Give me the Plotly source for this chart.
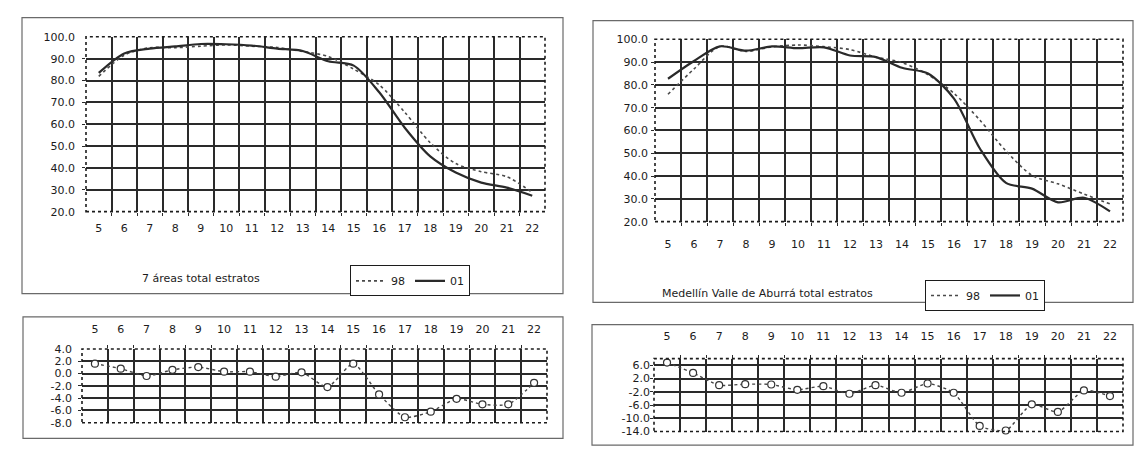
import plotly.graph_objects as go

W, H = 1137, 456

# ---------------- data ----------------
categories = list(range(5, 23))
cat_labels = [str(c) for c in categories]

# 7 áreas total estratos
tl_98 = [81.9, 91.6, 95.0, 95.0, 95.7, 96.3, 95.7, 95.1, 93.3, 91.0, 85.2, 78.0, 65.5, 51.5, 42.0, 38.3, 36.0, 28.8]
tl_01 = [83.5, 92.4, 94.6, 95.6, 96.7, 96.6, 96.0, 94.6, 93.5, 88.8, 86.8, 74.6, 58.4, 45.3, 37.9, 33.3, 31.0, 27.3]

# Medellín Valle de Aburrá total estratos
tr_98 = [75.9, 87.0, 96.9, 94.7, 96.7, 97.5, 96.8, 95.5, 92.2, 89.8, 84.5, 76.3, 64.5, 51.0, 40.3, 36.6, 32.1, 27.8]
tr_01 = [82.7, 90.5, 96.9, 95.0, 96.9, 96.1, 96.5, 92.9, 92.2, 87.5, 85.0, 74.0, 52.0, 37.0, 34.5, 28.5, 30.5, 24.5]

# differences (bottom panels)
bl_diff = [1.6, 0.8, -0.4, 0.6, 1.05, 0.3, 0.3, -0.5, 0.2, -2.2, 1.6, -3.4, -7.1, -6.2, -4.1, -5.0, -5.0, -1.5]
br_diff = [6.8, 3.7, 0.0, 0.3, 0.2, -1.4, -0.3, -2.6, 0.0, -2.3, 0.5, -2.3, -12.3, -13.7, -5.8, -8.1, -1.6, -3.3]

top_yticks = [20, 30, 40, 50, 60, 70, 80, 90, 100]
top_ytext = ["20.0", "30.0", "40.0", "50.0", "60.0", "70.0", "80.0", "90.0", "100.0"]
bl_yticks = [4, 2, 0, -2, -4, -6, -8]
bl_ytext = ["4.0", "2.0", "0.0", "-2.0", "-4.0", "-6.0", "-8.0"]
br_yticks = [6, 2, -2, -6, -10, -14]
br_ytext = ["6.0", "2.0", "-2.0", "-6.0", "-10.0", "-14.0"]

series_names = ["98", "01"]
title_left = "7 áreas total estratos"
title_right = "Medellín Valle de Aburrá total estratos"

# ---------------- style ----------------
FONT = "DejaVu Sans"
INK = "#1c1c1c"
GRID = "#2a2a2a"


def px_x(p):
    return p / W


def px_y(p):
    return 1 - p / H


fig = go.Figure()

line98 = dict(color="#4a4a4a", width=1.6, dash="dot", shape="spline", smoothing=0.8)
line01 = dict(color="#2a2a2a", width=2.2, shape="spline", smoothing=0.8)

fig.add_trace(go.Scatter(x=categories, y=tl_98, name=series_names[0], mode="lines",
                         line=line98, xaxis="x", yaxis="y", legend="legend"))
fig.add_trace(go.Scatter(x=categories, y=tl_01, name=series_names[1], mode="lines",
                         line=line01, xaxis="x", yaxis="y", legend="legend"))
fig.add_trace(go.Scatter(x=categories, y=tr_98, name=series_names[0], mode="lines",
                         line=line98, xaxis="x2", yaxis="y2", legend="legend2"))
fig.add_trace(go.Scatter(x=categories, y=tr_01, name=series_names[1], mode="lines",
                         line=line01, xaxis="x2", yaxis="y2", legend="legend2"))

diff_line = dict(color="#444444", width=1.4, dash="dot", shape="spline", smoothing=0.6)
diff_marker = dict(symbol="circle", size=7, color="white", line=dict(color="#333333", width=1.2))
fig.add_trace(go.Scatter(x=categories, y=bl_diff, mode="lines+markers", line=diff_line,
                         marker=diff_marker, xaxis="x3", yaxis="y3", showlegend=False,
                         cliponaxis=False))
fig.add_trace(go.Scatter(x=categories, y=br_diff, mode="lines+markers", line=diff_line,
                         marker=diff_marker, xaxis="x4", yaxis="y4", showlegend=False,
                         cliponaxis=False))

tickfont = dict(family=FONT, size=11, color=INK)
minor_x = [c + 0.5 for c in categories[:-1]]


def make_x(dom, anchor, side, standoff):
    return dict(domain=[px_x(dom[0]), px_x(dom[1])], anchor=anchor, range=[4.5, 22.5],
                tickmode="array", tickvals=categories, ticktext=cat_labels, side=side,
                showgrid=False, zeroline=False, showline=False, ticks="",
                ticklabelstandoff=standoff, tickfont=tickfont, fixedrange=True,
                minor=dict(tickmode="array", tickvals=minor_x, showgrid=True,
                           gridcolor=GRID, gridwidth=1.5, ticks="outside", ticklen=3,
                           tickcolor=GRID))


def make_y(dom, anchor, rng, tv, tt, inner, standoff):
    return dict(domain=[px_y(dom[1]), px_y(dom[0])], anchor=anchor, range=rng,
                tickmode="array", tickvals=tv, ticktext=tt, showgrid=False,
                zeroline=False, showline=False, ticks="", ticklabelstandoff=standoff,
                tickfont=tickfont, fixedrange=True,
                minor=dict(tickmode="array", tickvals=inner, showgrid=True,
                           gridcolor=GRID, gridwidth=1.5, ticks="outside", ticklen=3,
                           tickcolor=GRID))


TL = ((86, 545), (31.7, 211.7))
TR = ((655, 1123), (34.3, 222))
BL = ((82, 547), (353, 429))
BR = ((654, 1123), (363, 438))

layout_axes = dict(
    xaxis=make_x(TL[0], "y", "bottom", 8),
    yaxis=make_y(TL[1], "x", [20, 100], top_yticks, top_ytext, top_yticks[1:-1], 10),
    xaxis2=make_x(TR[0], "y2", "bottom", 14),
    yaxis2=make_y(TR[1], "x2", [20, 100], top_yticks, top_ytext, top_yticks[1:-1], 6),
    xaxis3=make_x(BL[0], "y3", "top", 13),
    yaxis3=make_y(BL[1], "x3", [-8, 4], bl_yticks, bl_ytext, bl_yticks[1:-1], 9),
    xaxis4=make_x(BR[0], "y4", "top", 15),
    yaxis4=make_y(BR[1], "x4", [-14, 8], br_yticks, br_ytext, br_yticks[:-1], 3),
)

shapes = []
# dotted plot-area borders
for xr, yr in [("x", "y"), ("x2", "y2"), ("x3", "y3"), ("x4", "y4")]:
    shapes.append(dict(type="rect", xref=f"{xr} domain", yref=f"{yr} domain",
                       x0=0, x1=1, y0=0, y1=1,
                       line=dict(color=INK, width=1.6, dash="dot"), layer="above"))
# outer frames of each panel
for (x0, x1, y0, y1) in [(22, 563, 12, 296), (593, 1133, 15, 305),
                         (23, 563, 320, 445), (592, 1133, 328, 452)]:
    shapes.append(dict(type="rect", xref="paper", yref="paper",
                       x0=px_x(x0), x1=px_x(x1), y0=px_y(y1), y1=px_y(y0),
                       line=dict(color="#6a6a6a", width=1.2), layer="below"))

annotations = [
    dict(text=title_left, x=px_x(140), y=px_y(280), xref="paper", yref="paper",
         xanchor="left", yanchor="middle", showarrow=False,
         font=dict(family=FONT, size=11, color=INK)),
    dict(text=title_right, x=px_x(660), y=px_y(296), xref="paper", yref="paper",
         xanchor="left", yanchor="middle", showarrow=False,
         font=dict(family=FONT, size=11, color=INK)),
]

legend_common = dict(orientation="h", xanchor="left", yanchor="top",
                     bordercolor=INK, borderwidth=1, bgcolor="white",
                     font=dict(family=FONT, size=11, color=INK),
                     itemwidth=30, tracegroupgap=0)

fig.update_layout(
    width=W, height=H, autosize=False,
    margin=dict(l=0, r=0, t=0, b=0),
    paper_bgcolor="white", plot_bgcolor="white",
    font=dict(family=FONT, size=11, color=INK),
    shapes=shapes, annotations=annotations,
    legend=dict(x=px_x(350), y=px_y(267), **legend_common),
    legend2=dict(x=px_x(925), y=px_y(282), **legend_common),
    **layout_axes,
)

fig.write_html("out.html")
